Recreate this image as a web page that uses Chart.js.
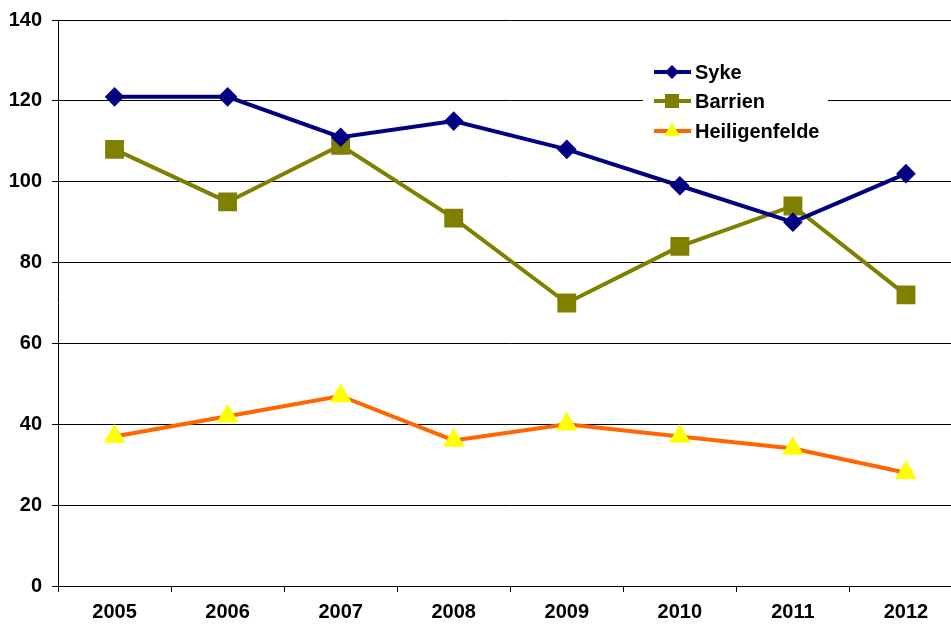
<!DOCTYPE html>
<html>
<head>
<meta charset="utf-8">
<script src="https://cdn.jsdelivr.net/npm/chart.js@4"></script>
<style>
  html, body { margin: 0; padding: 0; overflow: hidden; background: #fff; }
  #wrap { position: relative; width: 951px; height: 626px; overflow: hidden; }
  #lineChart { position: absolute; left: 0; top: 0; }
</style>
</head>
<body>
<!-- the plot runs past the right edge, as in the original, so the canvas is wider and clipped -->
<div id="wrap"><canvas id="lineChart" width="977" height="626"></canvas></div>
<script>
// data
const years = ['2005', '2006', '2007', '2008', '2009', '2010', '2011', '2012'];
const syke = [121, 121, 111, 115, 108, 99, 90, 102];
const barrien = [108, 95, 109, 91, 70, 84, 94, 72];
const heiligenfelde = [37, 42, 47, 36, 40, 37, 34, 28];
const yTicks = [0, 20, 40, 60, 80, 100, 120, 140];

const FONT = 'Arial, "Liberation Sans", sans-serif';

// legend drawn inside the plot, white box over the gridline
const boxLegend = {
  id: 'boxLegend',
  afterDatasetsDraw(chart) {
    const ctx = chart.ctx;
    ctx.save();
    ctx.fillStyle = '#fff';
    ctx.fillRect(643, 56, 185, 90);
    const rows = [72, 101, 131];
    chart.data.datasets.forEach(function(ds, i) {
      const y = rows[i];
      ctx.strokeStyle = ds.borderColor;
      ctx.lineWidth = 4;
      ctx.beginPath();
      ctx.moveTo(654, y);
      ctx.lineTo(691, y);
      ctx.stroke();
      ctx.fillStyle = ds.pointBackgroundColor;
      ctx.beginPath();
      if (ds.pointStyle === 'rectRot') {
        ctx.moveTo(672, y - 7); ctx.lineTo(679, y); ctx.lineTo(672, y + 7); ctx.lineTo(665, y);
      } else if (ds.pointStyle === 'rect') {
        ctx.rect(665, y - 7, 14, 14);
      } else {
        ctx.moveTo(672, y - 8); ctx.lineTo(680, y + 5); ctx.lineTo(664, y + 5);
      }
      ctx.closePath();
      ctx.fill();
      ctx.fillStyle = '#000';
      ctx.font = 'bold 20px ' + FONT;
      ctx.textBaseline = 'middle';
      ctx.textAlign = 'left';
      ctx.fillText(ds.label, 695, y + 1);
    });
    ctx.restore();
  }
};

var ctx = document.getElementById('lineChart');
var lineChart = new Chart(ctx, {
  type: 'line',
  data: {
    labels: years,
    datasets: [{
      label: 'Syke',
      data: syke,
      borderColor: '#000080',
      backgroundColor: '#000080',
      pointBackgroundColor: '#000080',
      pointBorderColor: '#000080',
      pointStyle: 'rectRot',
      pointRadius: 7,
      borderWidth: 4,
      tension: 0
    }, {
      label: 'Barrien',
      data: barrien,
      borderColor: '#808000',
      backgroundColor: '#808000',
      pointBackgroundColor: '#808000',
      pointBorderColor: '#808000',
      pointStyle: 'rect',
      pointRadius: 10.5,
      borderWidth: 4,
      tension: 0
    }, {
      label: 'Heiligenfelde',
      data: heiligenfelde,
      borderColor: '#FF6600',
      backgroundColor: '#FFFF00',
      pointBackgroundColor: '#FFFF00',
      pointBorderColor: '#FFFF00',
      pointStyle: 'triangle',
      pointRadius: 8.5,
      borderWidth: 4,
      tension: 0
    }]
  },
  options: {
    responsive: false,
    animation: false,
    layout: { padding: { top: 20, right: 0, left: 0, bottom: 0 } },
    plugins: {
      legend: { display: false },
      tooltip: { enabled: false }
    },
    scales: {
      x: {
        offset: true,
        grid: { offset: true, drawOnChartArea: false, drawTicks: true, tickLength: 6, color: '#000' },
        border: { color: '#000', width: 1 },
        ticks: { color: '#000', font: { family: FONT, size: 20, weight: 'bold', lineHeight: 1 }, padding: 10, maxRotation: 0 },
        afterFit: function(s) { s.height = 40; }
      },
      y: {
        min: 0,
        max: 140,
        afterBuildTicks: function(s) { s.ticks = yTicks.map(function(v) { return { value: v }; }); },
        grid: { color: '#000', lineWidth: 1, tickLength: 6 },
        border: { color: '#000', width: 1 },
        ticks: { color: '#000', font: { family: FONT, size: 20, weight: 'bold', lineHeight: 1 }, padding: 10 },
        afterFit: function(s) { s.width = 58; }
      }
    }
  },
  plugins: [boxLegend]
});
</script>
</body>
</html>
